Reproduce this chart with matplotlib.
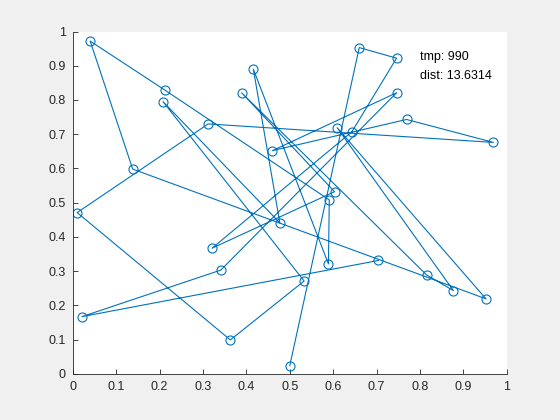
import matplotlib
matplotlib.use("Agg")
import matplotlib.pyplot as plt

# route, in visiting order (x, y)
route_x = [0.704, 0.021, 0.341, 0.746, 0.460, 0.769, 0.969, 0.312, 0.010, 0.363,
           0.533, 0.208, 0.477, 0.416, 0.589, 0.591, 0.212, 0.040, 0.138, 0.952,
           0.609, 0.877, 0.815, 0.389, 0.603, 0.321, 0.643, 0.746, 0.660, 0.500]
route_y = [0.331, 0.167, 0.303, 0.821, 0.652, 0.743, 0.676, 0.730, 0.471, 0.099,
           0.271, 0.795, 0.441, 0.890, 0.321, 0.508, 0.829, 0.972, 0.598, 0.219,
           0.719, 0.243, 0.289, 0.821, 0.532, 0.367, 0.707, 0.922, 0.953, 0.024]

tmp = 990
dist = 13.6314

ticks = [0, 0.1, 0.2, 0.3, 0.4, 0.5, 0.6, 0.7, 0.8, 0.9, 1]
tick_labels = ['0', '0.1', '0.2', '0.3', '0.4', '0.5', '0.6', '0.7', '0.8', '0.9', '1']

plt.rcParams['font.family'] = ['Liberation Sans', 'DejaVu Sans']

fig = plt.figure(figsize=(5.6, 4.2), dpi=100, facecolor='#f0f0f0')
ax = fig.add_axes([0.13, 0.11, 0.775, 0.815])
ax.plot(route_x, route_y, '-o', color='#0072bd', lw=0.8,
        markersize=6.5, markerfacecolor='none', markeredgewidth=0.8)

ax.text(0.80, 0.925, f'tmp: {tmp}', fontsize=9, va='center', color='black')
ax.text(0.80, 0.871, f'dist: {dist}', fontsize=9, va='center', color='black')

ax.set_xlim(0, 1)
ax.set_ylim(0, 1)
ax.set_xticks(ticks)
ax.set_xticklabels(tick_labels)
ax.set_yticks(ticks)
ax.set_yticklabels(tick_labels)
ax.tick_params(direction='in', length=3.5, width=0.6, colors='#262626',
               labelsize=9, pad=5)
for side in ['top', 'right']:
    ax.spines[side].set_visible(False)
for side in ['left', 'bottom']:
    ax.spines[side].set_color('#262626')
    ax.spines[side].set_linewidth(0.6)

fig.savefig('out.png', dpi=100, facecolor=fig.get_facecolor())
